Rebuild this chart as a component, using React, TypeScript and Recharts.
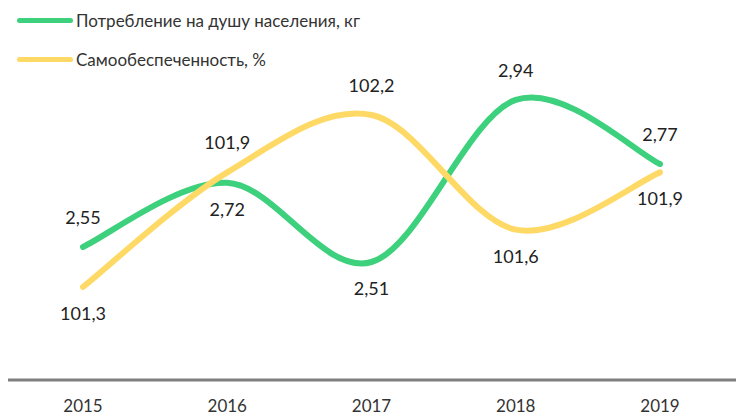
import React from "react";
import { LineChart, Line, XAxis, YAxis, LabelList } from "recharts";

// Years on the x axis
const years = ["2015", "2016", "2017", "2018", "2019"];
// Consumption per capita, kg
const consumption = [2.55, 2.72, 2.51, 2.94, 2.77];
// Self-sufficiency, %
const selfSufficiency = [101.3, 101.9, 102.2, 101.6, 101.9];

// Where each value label sits relative to its point
const consumptionLabelSide = ["top", "bottom", "bottom", "top", "top"];
const selfLabelSide = ["bottom", "top", "top", "bottom", "bottom"];

const GREEN = "#3dd07d";
const YELLOW = "#ffd966";
const FONT = "Lato, 'Noto Sans', sans-serif";

const data = years.map((year, i) => ({
  year,
  consumption: consumption[i],
  self: selfSufficiency[i],
}));

const fmt = (v: number) => String(v).replace(".", ",");

// Spreadsheet-style smoothed line (Catmull-Rom through the points)
const smoothCurve = (context: any) => {
  let pts: number[][] = [];
  return {
    areaStart() {},
    areaEnd() {},
    lineStart() {
      pts = [];
    },
    point(x: number, y: number) {
      pts.push([+x, +y]);
    },
    lineEnd() {
      const n = pts.length;
      if (!n) return;
      context.moveTo(pts[0][0], pts[0][1]);
      for (let i = 0; i < n - 1; i++) {
        const p0 = pts[Math.max(i - 1, 0)];
        const p1 = pts[i];
        const p2 = pts[i + 1];
        const p3 = pts[Math.min(i + 2, n - 1)];
        context.bezierCurveTo(
          p1[0] + (p2[0] - p0[0]) / 6,
          p1[1] + (p2[1] - p0[1]) / 6,
          p2[0] - (p3[0] - p1[0]) / 6,
          p2[1] - (p3[1] - p1[1]) / 6,
          p2[0],
          p2[1]
        );
      }
    },
  };
};

const makeLabel = (sides: string[]) => (props: any) => {
  const { x, y, value, index } = props;
  const dy = sides[index] === "top" ? -30 : 26;
  return (
    <text
      x={x}
      y={y + dy}
      textAnchor="middle"
      dominantBaseline="central"
      fontFamily={FONT}
      fontSize={18}
      fill="#222"
    >
      {fmt(value)}
    </text>
  );
};

const legendItems = [
  { label: "Потребление на душу населения, кг", color: GREEN },
  { label: "Самообеспеченность, %", color: YELLOW },
];

export default function App() {
  return (
    <div
      style={{
        position: "absolute",
        left: 0,
        top: 0,
        width: 736,
        height: 418,
        background: "#fff",
        fontFamily: FONT,
      }}
    >
      <LineChart
        width={736}
        height={418}
        data={data}
        margin={{ top: 10, right: 0, bottom: 8, left: 8 }}
      >
        <XAxis
          dataKey="year"
          axisLine={{ stroke: "#7f7f7f", strokeWidth: 3 }}
          tickLine={false}
          tickMargin={14}
          padding={{ left: 75, right: 76 }}
          tick={{ fontSize: 17, fill: "#333", fontFamily: FONT }}
        />
        <YAxis yAxisId="kg" hide domain={[2.197, 3.1784]} />
        <YAxis yAxisId="pct" hide domain={[100.813, 102.75]} />
        <Line
          yAxisId="kg"
          type={smoothCurve as any}
          dataKey="consumption"
          stroke={GREEN}
          strokeWidth={6}
          strokeLinecap="round"
          dot={false}
          isAnimationActive={false}
        >
          <LabelList dataKey="consumption" content={makeLabel(consumptionLabelSide)} />
        </Line>
        <Line
          yAxisId="pct"
          type={smoothCurve as any}
          dataKey="self"
          stroke={YELLOW}
          strokeWidth={6}
          strokeLinecap="round"
          dot={false}
          isAnimationActive={false}
        >
          <LabelList dataKey="self" content={makeLabel(selfLabelSide)} />
        </Line>
      </LineChart>
      <div style={{ position: "absolute", left: 17, top: 8 }}>
        {legendItems.map((item) => (
          <div
            key={item.label}
            style={{ display: "flex", alignItems: "center", height: 24, marginBottom: 15 }}
          >
            <span
              style={{
                display: "inline-block",
                width: 56,
                height: 5,
                borderRadius: 3,
                background: item.color,
                marginRight: 3,
              }}
            />
            <span style={{ fontSize: 17, color: "#333" }}>{item.label}</span>
          </div>
        ))}
      </div>
    </div>
  );
}
